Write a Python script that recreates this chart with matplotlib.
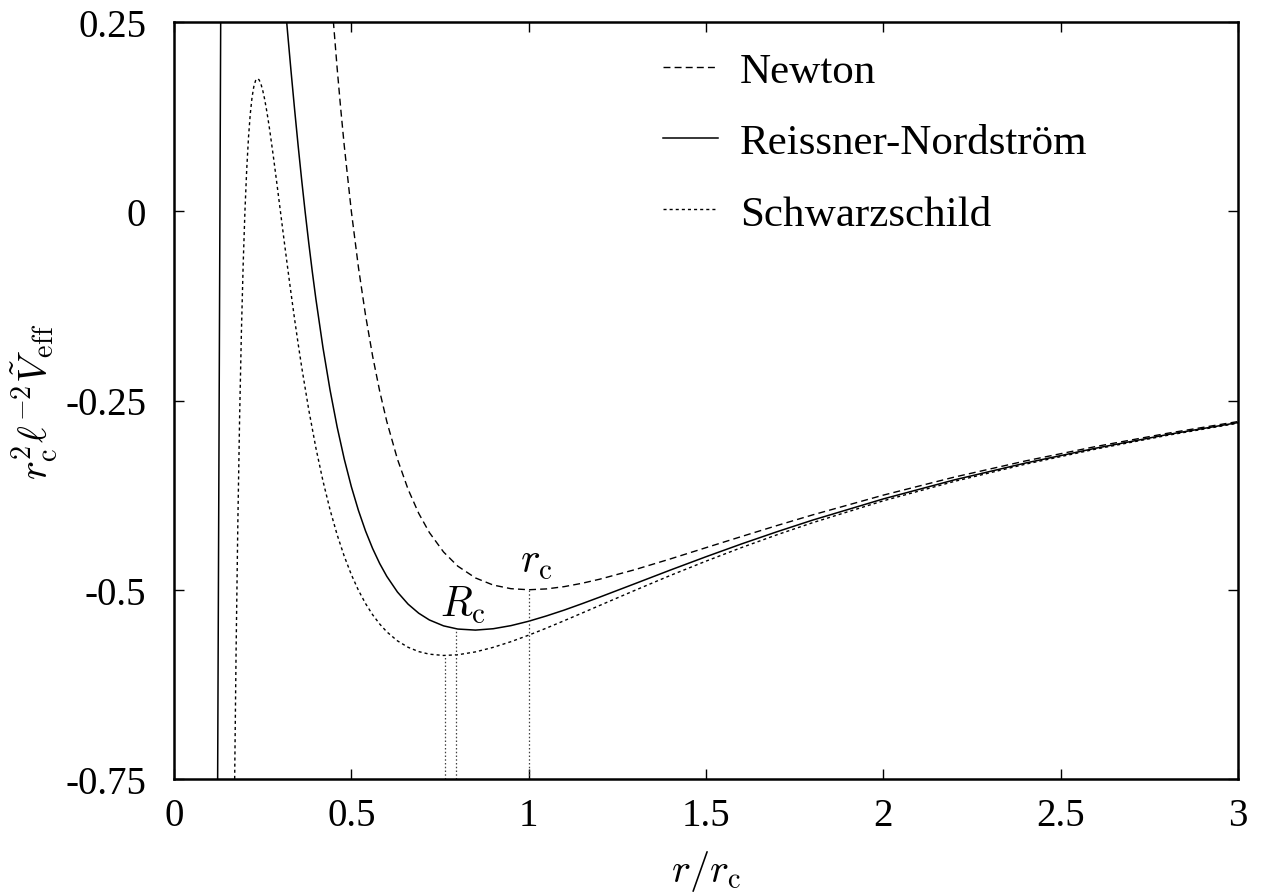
import matplotlib
matplotlib.use("Agg")
import matplotlib.pyplot as plt

plt.rcParams['font.family'] = ['Liberation Serif', 'DejaVu Serif']
plt.rcParams['mathtext.fontset'] = 'cm'

# ---- data ----
newton_x = [0.43,0.44,0.45,0.46,0.47,0.48,0.50,0.52,0.54,0.56,0.58,0.60,0.63,0.66,0.69,0.72,0.76,0.80,0.85,0.90,0.95,1.00,1.05,1.10,1.15,1.20,1.30,1.40,1.50,1.60,1.70,1.80,2.00,2.20,2.40,2.60,2.80,3.00]
newton_v = [0.3786,0.3099,0.2469,0.1890,0.1358,0.0868,0.0000,-0.0740,-0.1372,-0.1913,-0.2378,-0.2778,-0.3275,-0.3673,-0.3991,-0.4244,-0.4501,-0.4688,-0.4844,-0.4938,-0.4986,-0.5000,-0.4989,-0.4959,-0.4915,-0.4861,-0.4734,-0.4592,-0.4444,-0.4297,-0.4152,-0.4012,-0.3750,-0.3512,-0.3299,-0.3107,-0.2934,-0.2778]

schw_x = [0.165,0.17,0.175,0.18,0.185,0.19,0.195,0.20,0.205,0.21,0.215,0.22,0.225,0.23,0.235,0.24,0.245,0.25,0.255,0.26,0.265,0.27,0.28,0.29,0.30,0.31,0.32,0.33,0.34,0.35,0.36,0.38,0.40,0.42,0.44,0.46,0.48,0.50,0.52,0.54,0.56,0.58,0.60,0.63,0.66,0.69,0.72,0.76,0.80,0.85,0.90,0.95,1.00,1.05,1.10,1.15,1.20,1.30,1.40,1.50,1.60,1.70,1.80,2.00,2.20,2.40,2.60,2.80,3.00]
schw_v = [-1.0518,-0.7939,-0.5831,-0.4116,-0.2724,-0.1604,-0.0708,0.0000,0.0551,0.0972,0.1283,0.1503,0.1646,0.1726,0.1753,0.1736,0.1683,0.1600,0.1493,0.1365,0.1222,0.1067,0.0729,0.0369,0.0000,-0.0369,-0.0732,-0.1085,-0.1425,-0.1749,-0.2058,-0.2624,-0.3125,-0.3563,-0.3944,-0.4274,-0.4557,-0.4800,-0.5007,-0.5182,-0.5330,-0.5453,-0.5556,-0.5675,-0.5760,-0.5817,-0.5851,-0.5868,-0.5859,-0.5821,-0.5761,-0.5686,-0.5600,-0.5507,-0.5409,-0.5309,-0.5208,-0.5007,-0.4810,-0.4622,-0.4443,-0.4274,-0.4115,-0.3825,-0.3569,-0.3342,-0.3141,-0.2961,-0.2800]

rn_wall_x = [0.1222, 0.1325]
rn_wall_v = [-0.85, 0.35]
rn_x = [0.30,0.31,0.32,0.33,0.34,0.35,0.36,0.37,0.38,0.39,0.40,0.42,0.44,0.46,0.48,0.50,0.52,0.54,0.56,0.58,0.60,0.63,0.66,0.69,0.72,0.76,0.80,0.85,0.90,0.95,1.00,1.05,1.10,1.15,1.20,1.30,1.40,1.50,1.60,1.70,1.80,2.00,2.20,2.40,2.60,2.80,3.00]
rn_v = [0.3473,0.2918,0.2375,0.1850,0.1347,0.0867,0.0412,-0.0017,-0.0421,-0.0801,-0.1157,-0.1801,-0.2362,-0.2850,-0.3273,-0.3638,-0.3952,-0.4223,-0.4455,-0.4654,-0.4823,-0.5030,-0.5190,-0.5310,-0.5399,-0.5477,-0.5519,-0.5533,-0.5515,-0.5474,-0.5416,-0.5346,-0.5269,-0.5185,-0.5098,-0.4919,-0.4739,-0.4564,-0.4395,-0.4234,-0.4081,-0.3800,-0.3549,-0.3327,-0.3129,-0.2951,-0.2792]

marker_x = [0.7646, 0.795, 1.0]
marker_v = [-0.5868, -0.5515, -0.5]
marker_labels = [r'$R_{\rm c}$', r'$r_{\rm c}$']
marker_label_pos = [(0.815, -0.519), (1.023, -0.463)]

xticks = [0, 0.5, 1, 1.5, 2, 2.5, 3]
xticklabels = ['0', '0.5', '1', '1.5', '2', '2.5', '3']
yticks = [0.25, 0, -0.25, -0.5, -0.75]
yticklabels = ['0.25', '0', '-0.25', '-0.5', '-0.75']

# ---- figure ----
fig = plt.figure(figsize=(12.68, 8.95), dpi=100)
ax = fig.add_axes([174/1268, 1-780/895, 1064/1268, 757/895])

ax.plot(newton_x, newton_v, color='k', lw=1.0, dashes=(5, 3), label='Newton')
ax.plot(rn_x, rn_v, color='k', lw=1.1, label='Reissner-Nordström')
ax.plot(rn_wall_x, rn_wall_v, color='k', lw=1.1)
ax.plot(schw_x, schw_v, color='k', lw=1.0, dashes=(2.2, 2.2), label='Schwarzschild')

ax.vlines(marker_x, -0.75, marker_v, colors='0.25', lw=0.9, linestyles=(0, (1.2, 1.8)))
for lab, (tx, ty) in zip(marker_labels, marker_label_pos):
    ax.text(tx, ty, lab, ha='center', va='center', fontsize=30)

ax.set_xlim(0, 3)
ax.set_ylim(-0.75, 0.25)
ax.set_xticks(xticks)
ax.set_xticklabels(xticklabels)
ax.set_yticks(yticks)
ax.set_yticklabels(yticklabels)
ax.tick_params(direction='in', length=7.2, width=1.0, top=True, right=True,
               labelsize=28)
ax.tick_params(axis='y', pad=20)
ax.tick_params(axis='x', pad=13)
for s in ax.spines.values():
    s.set_linewidth(1.8)

ax.set_xlabel(r'$r/r_{\rm c}$', fontsize=29, labelpad=10)
ax.set_ylabel(r'$r_{\rm c}^2\ell^{-2}\tilde{V}_{\rm eff}$', fontsize=29, labelpad=4)

leg = ax.legend(loc='upper left', bbox_to_anchor=(0.4596, 0.961), frameon=False,
                fontsize=31, handlelength=1.28, handletextpad=0.51,
                labelspacing=0.75, borderpad=0, borderaxespad=0)

fig.savefig("out.png", dpi=100)
